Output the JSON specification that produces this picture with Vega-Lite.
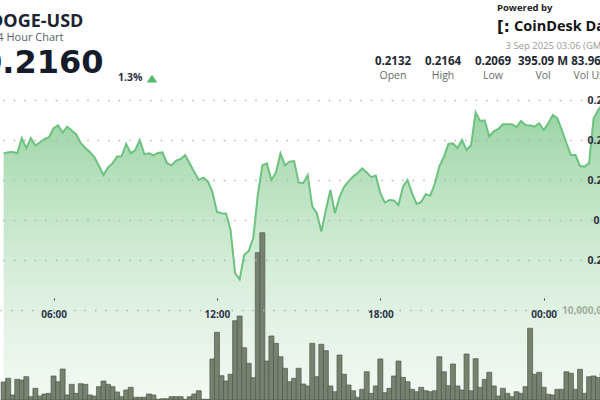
{
  "$schema": "https://vega.github.io/schema/vega-lite/v6.json",
  "padding": 0,
  "background": "white",
  "spacing": 0,
  "config": {"view": {"stroke": null}, "font": "Open Sans", "concat": {"spacing": 0}},
  "datasets": {
    "quote": [{"pair": "DOGE-USD", "period": "24 Hour Chart", "price": "0.2160", "change": "1.3%"}],
    "stats": [
      {"stat": "Open", "value": "0.2132"},
      {"stat": "High", "value": "0.2164"},
      {"stat": "Low", "value": "0.2069"},
      {"stat": "Vol", "value": "395.09 M"},
      {"stat": "Vol USD", "value": "83.96 M"}
    ],
    "source": [{"note": "Powered by", "icon": "[:", "name": "CoinDesk Data", "updated": "3 Sep 2025 03:06 (GMT)"}],
    "series": [
      {"t": "2025-09-02T04:10", "p": 0.21333, "v": 2000000},
      {"t": "2025-09-02T04:20", "p": 0.21339, "v": 2410000},
      {"t": "2025-09-02T04:30", "p": 0.2134, "v": 560000},
      {"t": "2025-09-02T04:40", "p": 0.21334, "v": 2300000},
      {"t": "2025-09-02T04:50", "p": 0.21409, "v": 2220000},
      {"t": "2025-09-02T05:00", "p": 0.21359, "v": 2590000},
      {"t": "2025-09-02T05:10", "p": 0.21409, "v": 370000},
      {"t": "2025-09-02T05:20", "p": 0.21372, "v": 1300000},
      {"t": "2025-09-02T05:30", "p": 0.21389, "v": 440000},
      {"t": "2025-09-02T05:40", "p": 0.21404, "v": 670000},
      {"t": "2025-09-02T05:50", "p": 0.21414, "v": 740000},
      {"t": "2025-09-02T06:00", "p": 0.21459, "v": 2670000},
      {"t": "2025-09-02T06:10", "p": 0.21473, "v": 2030000},
      {"t": "2025-09-02T06:20", "p": 0.21437, "v": 3440000},
      {"t": "2025-09-02T06:30", "p": 0.21467, "v": 560000},
      {"t": "2025-09-02T06:40", "p": 0.21448, "v": 1740000},
      {"t": "2025-09-02T06:50", "p": 0.21428, "v": 740000},
      {"t": "2025-09-02T07:00", "p": 0.21384, "v": 1810000},
      {"t": "2025-09-02T07:10", "p": 0.2136, "v": 1740000},
      {"t": "2025-09-02T07:20", "p": 0.2134, "v": 560000},
      {"t": "2025-09-02T07:30", "p": 0.21315, "v": 440000},
      {"t": "2025-09-02T07:40", "p": 0.2127, "v": 1480000},
      {"t": "2025-09-02T07:50", "p": 0.21225, "v": 2110000},
      {"t": "2025-09-02T08:00", "p": 0.21263, "v": 1740000},
      {"t": "2025-09-02T08:10", "p": 0.21283, "v": 1480000},
      {"t": "2025-09-02T08:20", "p": 0.21317, "v": 890000},
      {"t": "2025-09-02T08:30", "p": 0.21318, "v": 370000},
      {"t": "2025-09-02T08:40", "p": 0.2138, "v": 1110000},
      {"t": "2025-09-02T08:50", "p": 0.21334, "v": 1410000},
      {"t": "2025-09-02T09:00", "p": 0.2135, "v": 300000},
      {"t": "2025-09-02T09:10", "p": 0.214, "v": 300000},
      {"t": "2025-09-02T09:20", "p": 0.21329, "v": 300000},
      {"t": "2025-09-02T09:30", "p": 0.21334, "v": 670000},
      {"t": "2025-09-02T09:40", "p": 0.21323, "v": 560000},
      {"t": "2025-09-02T09:50", "p": 0.21335, "v": 80000},
      {"t": "2025-09-02T10:00", "p": 0.21338, "v": 140000},
      {"t": "2025-09-02T10:10", "p": 0.21284, "v": 140000},
      {"t": "2025-09-02T10:20", "p": 0.21273, "v": 370000},
      {"t": "2025-09-02T10:30", "p": 0.21297, "v": 370000},
      {"t": "2025-09-02T10:40", "p": 0.21305, "v": 370000},
      {"t": "2025-09-02T10:50", "p": 0.21325, "v": 80000},
      {"t": "2025-09-02T11:00", "p": 0.21283, "v": 370000},
      {"t": "2025-09-02T11:10", "p": 0.2124, "v": 670000},
      {"t": "2025-09-02T11:20", "p": 0.212, "v": 1030000},
      {"t": "2025-09-02T11:30", "p": 0.21212, "v": 80000},
      {"t": "2025-09-02T11:40", "p": 0.21193, "v": 80000},
      {"t": "2025-09-02T11:50", "p": 0.2114, "v": 4560000},
      {"t": "2025-09-02T12:00", "p": 0.2104, "v": 7520000},
      {"t": "2025-09-02T12:10", "p": 0.21034, "v": 2700000},
      {"t": "2025-09-02T12:20", "p": 0.21033, "v": 2110000},
      {"t": "2025-09-02T12:30", "p": 0.2095, "v": 2860000},
      {"t": "2025-09-02T12:40", "p": 0.20733, "v": 8810000},
      {"t": "2025-09-02T12:50", "p": 0.20703, "v": 9330000},
      {"t": "2025-09-02T13:00", "p": 0.20825, "v": 5810000},
      {"t": "2025-09-02T13:10", "p": 0.20845, "v": 4080000},
      {"t": "2025-09-02T13:20", "p": 0.2091, "v": 2480000},
      {"t": "2025-09-02T13:30", "p": 0.21125, "v": 16370000},
      {"t": "2025-09-02T13:40", "p": 0.21273, "v": 18590000},
      {"t": "2025-09-02T13:50", "p": 0.21283, "v": 4330000},
      {"t": "2025-09-02T14:00", "p": 0.212, "v": 7110000},
      {"t": "2025-09-02T14:10", "p": 0.21238, "v": 6300000},
      {"t": "2025-09-02T14:20", "p": 0.21333, "v": 4810000},
      {"t": "2025-09-02T14:30", "p": 0.21273, "v": 3520000},
      {"t": "2025-09-02T14:40", "p": 0.21292, "v": 2030000},
      {"t": "2025-09-02T14:50", "p": 0.21295, "v": 2410000},
      {"t": "2025-09-02T15:00", "p": 0.21188, "v": 3520000},
      {"t": "2025-09-02T15:10", "p": 0.21184, "v": 1780000},
      {"t": "2025-09-02T15:20", "p": 0.21225, "v": 1560000},
      {"t": "2025-09-02T15:30", "p": 0.21068, "v": 6300000},
      {"t": "2025-09-02T15:40", "p": 0.21034, "v": 2590000},
      {"t": "2025-09-02T15:50", "p": 0.20942, "v": 6190000},
      {"t": "2025-09-02T16:00", "p": 0.2105, "v": 5480000},
      {"t": "2025-09-02T16:10", "p": 0.2115, "v": 1560000},
      {"t": "2025-09-02T16:20", "p": 0.21035, "v": 920000},
      {"t": "2025-09-02T16:30", "p": 0.21115, "v": 5000000},
      {"t": "2025-09-02T16:40", "p": 0.21165, "v": 2860000},
      {"t": "2025-09-02T16:50", "p": 0.21193, "v": 1670000},
      {"t": "2025-09-02T17:00", "p": 0.21218, "v": 1030000},
      {"t": "2025-09-02T17:10", "p": 0.21235, "v": 300000},
      {"t": "2025-09-02T17:20", "p": 0.21258, "v": 1190000},
      {"t": "2025-09-02T17:30", "p": 0.21238, "v": 3140000},
      {"t": "2025-09-02T17:40", "p": 0.21214, "v": 740000},
      {"t": "2025-09-02T17:50", "p": 0.21222, "v": 1560000},
      {"t": "2025-09-02T18:00", "p": 0.21134, "v": 4560000},
      {"t": "2025-09-02T18:10", "p": 0.21087, "v": 810000},
      {"t": "2025-09-02T18:20", "p": 0.211, "v": 1300000},
      {"t": "2025-09-02T18:30", "p": 0.21098, "v": 2670000},
      {"t": "2025-09-02T18:40", "p": 0.21075, "v": 4330000},
      {"t": "2025-09-02T18:50", "p": 0.21167, "v": 2520000},
      {"t": "2025-09-02T19:00", "p": 0.212, "v": 2030000},
      {"t": "2025-09-02T19:10", "p": 0.21133, "v": 1190000},
      {"t": "2025-09-02T19:20", "p": 0.2108, "v": 920000},
      {"t": "2025-09-02T19:30", "p": 0.2109, "v": 1410000},
      {"t": "2025-09-02T19:40", "p": 0.21129, "v": 1030000},
      {"t": "2025-09-02T19:50", "p": 0.21122, "v": 920000},
      {"t": "2025-09-02T20:00", "p": 0.2118, "v": 1030000},
      {"t": "2025-09-02T20:10", "p": 0.21268, "v": 4810000},
      {"t": "2025-09-02T20:20", "p": 0.21315, "v": 3140000},
      {"t": "2025-09-02T20:30", "p": 0.2138, "v": 1590000},
      {"t": "2025-09-02T20:40", "p": 0.21383, "v": 4000000},
      {"t": "2025-09-02T20:50", "p": 0.2136, "v": 1560000},
      {"t": "2025-09-02T21:00", "p": 0.214, "v": 1110000},
      {"t": "2025-09-02T21:10", "p": 0.2135, "v": 5110000},
      {"t": "2025-09-02T21:20", "p": 0.21375, "v": 1030000},
      {"t": "2025-09-02T21:30", "p": 0.21538, "v": 4590000},
      {"t": "2025-09-02T21:40", "p": 0.21495, "v": 1410000},
      {"t": "2025-09-02T21:50", "p": 0.21498, "v": 2300000},
      {"t": "2025-09-02T22:00", "p": 0.21418, "v": 3080000},
      {"t": "2025-09-02T22:10", "p": 0.21443, "v": 1560000},
      {"t": "2025-09-02T22:20", "p": 0.21455, "v": 440000},
      {"t": "2025-09-02T22:30", "p": 0.21479, "v": 1300000},
      {"t": "2025-09-02T22:40", "p": 0.21479, "v": 740000},
      {"t": "2025-09-02T22:50", "p": 0.21479, "v": 370000},
      {"t": "2025-09-02T23:00", "p": 0.21464, "v": 920000},
      {"t": "2025-09-02T23:10", "p": 0.21495, "v": 740000},
      {"t": "2025-09-02T23:20", "p": 0.21475, "v": 1480000},
      {"t": "2025-09-02T23:30", "p": 0.21472, "v": 7970000},
      {"t": "2025-09-02T23:40", "p": 0.21467, "v": 2860000},
      {"t": "2025-09-02T23:50", "p": 0.21484, "v": 3080000},
      {"t": "2025-09-03T00:00", "p": 0.2145, "v": 1410000},
      {"t": "2025-09-03T00:10", "p": 0.21484, "v": 630000},
      {"t": "2025-09-03T00:20", "p": 0.21525, "v": 560000},
      {"t": "2025-09-03T00:30", "p": 0.21509, "v": 1190000},
      {"t": "2025-09-03T00:40", "p": 0.2145, "v": 1190000},
      {"t": "2025-09-03T00:50", "p": 0.21385, "v": 3140000},
      {"t": "2025-09-03T01:00", "p": 0.21325, "v": 2970000},
      {"t": "2025-09-03T01:10", "p": 0.21325, "v": 1190000},
      {"t": "2025-09-03T01:20", "p": 0.2127, "v": 3410000},
      {"t": "2025-09-03T01:30", "p": 0.21267, "v": 740000},
      {"t": "2025-09-03T01:40", "p": 0.21285, "v": 2590000},
      {"t": "2025-09-03T01:50", "p": 0.2151, "v": 2670000},
      {"t": "2025-09-03T02:00", "p": 0.2155, "v": 2500000},
      {"t": "2025-09-03T02:10", "p": 0.2158, "v": 3000000}
    ]
  },
  "vconcat": [
    {
      "spacing": 0,
      "resolve": {"scale": {"x": "independent", "y": "independent"}},
      "hconcat": [
        {
          "width": 368,
          "height": 88,
          "data": {"name": "quote"},
          "encoding": {
            "x": {"datum": "quote", "type": "nominal", "bandPosition": 0, "scale": {"type": "band", "domain": ["quote"], "paddingInner": 0, "paddingOuter": 0}, "axis": null}
          },
          "layer": [
            {
              "mark": {"type": "text", "align": "left", "baseline": "middle", "fontSize": 18, "fontWeight": "bold", "color": "#1b2433", "dx": -10, "dy": 0, "clip": true},
              "encoding": {"text": {"field": "pair"}, "y": {"datum": "name", "type": "nominal", "scale": {"type": "point", "domain": ["name", "period", "price", "change"], "padding": 0.834, "align": 0.7}, "axis": null}}
            },
            {
              "mark": {"type": "text", "align": "left", "baseline": "middle", "fontSize": 11, "color": "#5a5f66", "dx": -9, "dy": -2.5, "clip": true},
              "encoding": {"text": {"field": "period"}, "y": {"datum": "period", "type": "nominal"}}
            },
            {
              "mark": {"type": "text", "align": "left", "baseline": "middle", "font": "DejaVu Sans", "fontSize": 32, "fontWeight": "bold", "color": "#141b2a", "dx": -20, "dy": 3.5, "clip": true},
              "encoding": {"text": {"field": "price"}, "y": {"datum": "price", "type": "nominal"}}
            },
            {
              "mark": {"type": "text", "align": "left", "baseline": "middle", "fontSize": 10.5, "fontWeight": "bold", "color": "#2a3140", "dx": 118, "dy": -1, "clip": true},
              "encoding": {"text": {"field": "change"}, "y": {"datum": "change", "type": "nominal"}}
            },
            {
              "mark": {"type": "point", "shape": "M-1,0.72L1,0.72L0,-0.72Z", "size": 112, "filled": true, "color": "#55b96a", "opacity": 1, "strokeWidth": 0, "xOffset": 152, "clip": true},
              "encoding": {"y": {"datum": "change", "type": "nominal"}}
            }
          ]
        },
        {
          "width": 250,
          "height": 88,
          "layer": [
            {
              "data": {"name": "source"},
              "mark": {"type": "text", "align": "left", "baseline": "middle", "fontSize": 9.5, "fontWeight": "bold", "color": "#232323", "dy": -2, "clip": true},
              "encoding": {
                "text": {"field": "note"},
                "x": {"datum": "Low", "type": "nominal", "bandPosition": 0.58, "scale": {"type": "band", "domain": ["Open", "High", "Low", "Vol", "Vol USD"], "paddingInner": 0, "paddingOuter": 0}, "axis": null},
                "y": {"datum": "powered", "type": "nominal", "scale": {"type": "point", "domain": ["powered", "brand", "date", "value", "label"], "padding": 0.6}, "axis": null}
              }
            },
            {
              "data": {"name": "source"},
              "mark": {"type": "text", "align": "left", "baseline": "middle", "font": "DejaVu Sans", "fontSize": 15, "fontWeight": "bold", "color": "#141414", "clip": true},
              "encoding": {"text": {"field": "icon"}, "x": {"datum": "Low", "type": "nominal", "bandPosition": 0.58}, "y": {"datum": "brand", "type": "nominal"}}
            },
            {
              "data": {"name": "source"},
              "mark": {"type": "text", "align": "left", "baseline": "middle", "fontSize": 14.5, "fontWeight": "bold", "color": "#141414", "clip": true},
              "encoding": {"text": {"field": "name"}, "x": {"datum": "Low", "type": "nominal", "bandPosition": 0.92}, "y": {"datum": "brand", "type": "nominal"}}
            },
            {
              "data": {"name": "source"},
              "mark": {"type": "text", "align": "left", "baseline": "middle", "fontSize": 9.5, "color": "#9a9a9a", "dy": 1.5, "clip": true},
              "encoding": {"text": {"field": "updated"}, "x": {"datum": "Low", "type": "nominal", "bandPosition": 0.75}, "y": {"datum": "date", "type": "nominal"}}
            },
            {
              "data": {"name": "stats"},
              "mark": {"type": "text", "align": "center", "baseline": "middle", "fontSize": 11.5, "fontWeight": "bold", "color": "#242a33", "dy": 1, "clip": true},
              "encoding": {"text": {"field": "value"}, "x": {"field": "stat", "type": "nominal", "bandPosition": 0.5}, "y": {"datum": "value", "type": "nominal"}}
            },
            {
              "data": {"name": "stats"},
              "mark": {"type": "text", "align": "center", "baseline": "middle", "fontSize": 10.5, "color": "#6a6a6a", "dy": -2, "clip": true},
              "encoding": {"text": {"field": "stat"}, "x": {"field": "stat", "type": "nominal", "bandPosition": 0.5}, "y": {"datum": "label", "type": "nominal"}}
            }
          ]
        }
      ]
    },
    {
      "width": 600,
      "height": 312,
      "data": {"name": "series"},
      "encoding": {
        "x": {
          "field": "t",
          "type": "temporal",
          "scale": {"domain": [{"year": 2025, "month": 9, "date": 2, "hours": 4, "minutes": 13}, {"year": 2025, "month": 9, "date": 3, "hours": 1, "minutes": 53}]},
          "axis": {"orient": "bottom", "offset": -102, "zindex": 1, "domain": false, "ticks": true, "tickSize": 2, "tickColor": "#3a3f47", "tickWidth": 1, "grid": false, "format": "%H:%M", "values": [{"year": 2025, "month": 9, "date": 2, "hours": 6}, {"year": 2025, "month": 9, "date": 2, "hours": 12}, {"year": 2025, "month": 9, "date": 2, "hours": 18}, {"year": 2025, "month": 9, "date": 3, "hours": 0}], "labelFontSize": 10, "labelFontWeight": "bold", "labelColor": "#2d3748", "labelPadding": 9, "labelFlush": false, "labelOverlap": false, "title": null}
        }
      },
      "resolve": {"scale": {"y": "independent"}},
      "layer": [
        {
          "mark": {"type": "area", "clip": true, "fill": {"gradient": "linear", "x1": 0, "y1": 0, "x2": 0, "y2": 1, "stops": [{"offset": 0, "color": "#98d3a3"}, {"offset": 0.3, "color": "#bde3c3"}, {"offset": 0.65, "color": "#ddf0df"}, {"offset": 1, "color": "#f3faf3"}]}},
          "encoding": {
            "y": {"field": "p", "type": "quantitative", "scale": {"domain": [0.201, 0.2166], "zero": false, "nice": false},
              "axis": {"orient": "right", "zindex": 1, "values": [0.208, 0.21, 0.212, 0.214, 0.216], "format": ".3~f", "grid": true, "gridDash": [1.5, 9], "gridDashOffset": 2.7, "gridColor": "#b5b5b5", "gridWidth": 1.3, "domain": false, "ticks": false, "labelFontSize": 10.5, "labelFontWeight": "bold", "labelColor": "#2d3340", "labelAlign": "right", "labelBaseline": "middle", "labelPadding": 14, "labelFlush": false, "labelOverlap": false, "title": null}},
            "y2": {"datum": 0.201}
          }
        },
        {
          "mark": {"type": "bar", "clip": true, "continuousBandSize": 3.7, "fill": "#76826f", "stroke": "#4f5a4b", "strokeWidth": 0.7},
          "encoding": {
            "y": {"field": "v", "type": "quantitative", "scale": {"domain": [0, 34666667], "nice": false},
              "axis": {"orient": "right", "zindex": 1, "values": [10000000], "labelExpr": "format(datum.value, ',d')", "grid": true, "gridDash": [1.5, 9], "gridColor": "#b5b5b5", "gridWidth": 1.3, "domain": false, "ticks": false, "labelFontSize": 10, "labelFontWeight": "bold", "labelColor": "#a3b1a0", "labelAlign": "right", "labelBaseline": "middle", "labelPadding": 13, "labelFlush": false, "title": null}}
          }
        },
        {
          "mark": {"type": "line", "clip": true, "color": "#6cc27e", "strokeWidth": 2},
          "encoding": {
            "y": {"field": "p", "type": "quantitative", "scale": {"domain": [0.201, 0.2166], "zero": false, "nice": false}, "axis": null}
          }
        }
      ]
    }
  ]
}
